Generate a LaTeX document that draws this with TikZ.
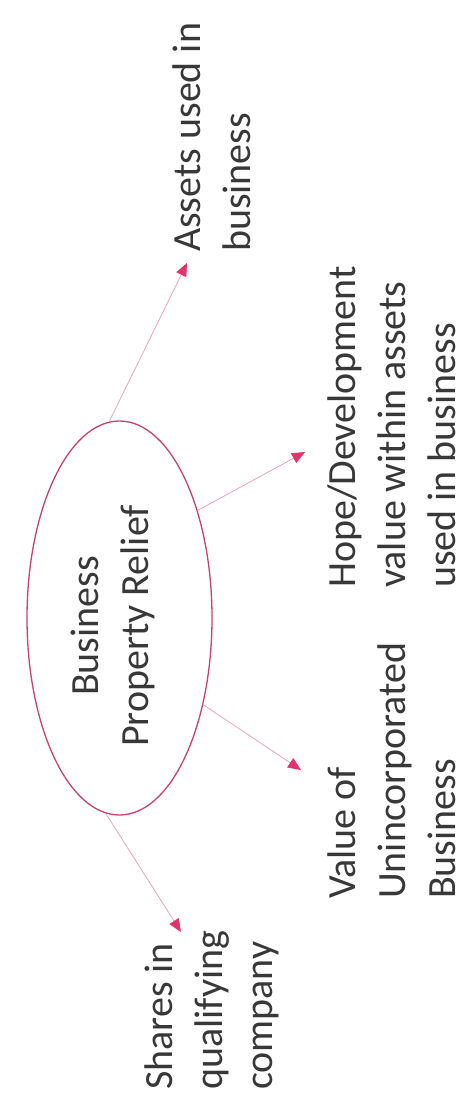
\documentclass[tikz,border=0pt]{standalone}
\usepackage{fontspec}
\setmainfont{Carlito}
\usetikzlibrary{shapes.geometric,arrows.meta}
\definecolor{rimpink}{HTML}{C2436E}
\definecolor{linkpink}{HTML}{E9A3B8}
\definecolor{tippink}{HTML}{E2336B}
\definecolor{inkgray}{HTML}{383838}
\tikzset{
  hub/.style={draw=rimpink, line width=1.3pt, shape=ellipse, inner sep=0pt,
    minimum width=185pt, minimum height=394pt},
  caption/.style={rotate=90, align=left, anchor=west, inner sep=0pt,
    text=inkgray, font=\fontsize{40}{50}\selectfont},
  hubtext/.style={rotate=90, align=center, inner sep=0pt,
    text=inkgray, font=\fontsize{40}{50}\selectfont},
  link/.style={draw=linkpink, line width=0.8pt,
    -{Triangle[length=13pt,width=11pt,color=tippink]}}
}
\begin{document}
\begin{tikzpicture}[x=1pt, y=-1pt]
  \useasboundingbox (0,0) rectangle (472,1105);

  % central ellipse and its label
  \node[hub] (bpr) at (119.5,618) {};
  \node[hubtext] (bprlabel) at (113,626) {Business\\Property Relief};

  % outer labels
  \node[caption] (assets) at (212,252) {Assets used in\\business};
  \node[caption] (hope) at (392,588) {Hope/Development\\value within assets\\used in business};
  \node[caption] (value) at (392,899) {Value of\\Unincorporated\\Business};
  \node[caption] (shares) at (212,1090) {Shares in\\qualifying\\company};

  % arrow ends next to the labels
  \coordinate (assetsTip) at (187,263);
  \coordinate (hopeTip) at (305,452);
  \coordinate (valueTip) at (301,770);
  \coordinate (sharesTip) at (181,932);

  \draw[link] (bpr.93.3) -- (assetsTip);
  \draw[link] (bpr.54) -- (hopeTip);
  \draw[link] (bpr.-46) -- (valueTip);
  \draw[link] (bpr.266.4) -- (sharesTip);
\end{tikzpicture}
\end{document}
